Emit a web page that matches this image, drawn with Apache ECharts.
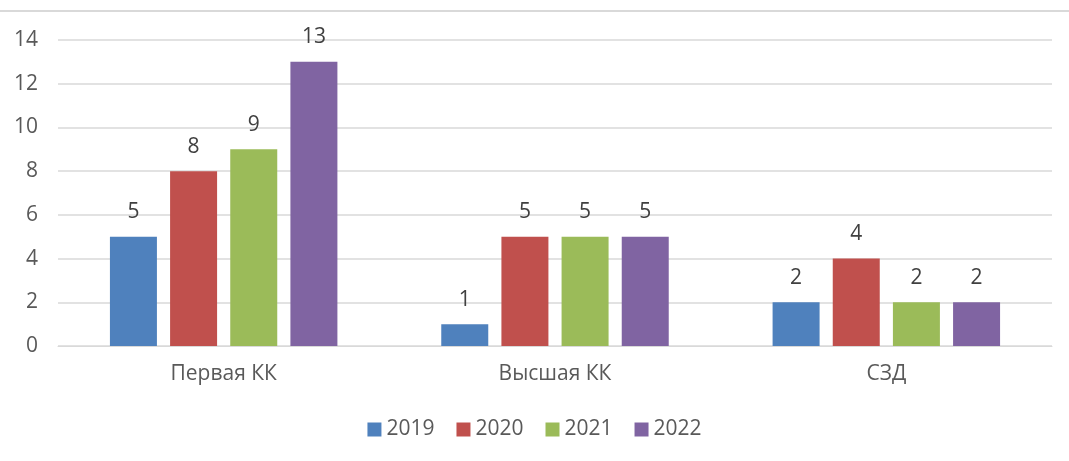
<!DOCTYPE html>
<html>
<head>
<meta charset="utf-8">
<script src="https://cdn.jsdelivr.net/npm/echarts@6/dist/echarts.min.js"></script>
<style>
  html, body { margin: 0; padding: 0; background: #fff; }
  #main { width: 1069px; height: 461px; }
</style>
</head>
<body>
<div id="main"></div>
<script>
var categories = ['Первая КК', 'Высшая КК', 'СЗД'];
var years = ['2019', '2020', '2021', '2022'];
var values2019 = [5, 1, 2];
var values2020 = [8, 5, 4];
var values2021 = [9, 5, 2];
var values2022 = [13, 5, 2];
var colors = ['#4F81BD', '#C0504D', '#9BBB59', '#8064A2'];

var chart = echarts.init(document.getElementById('main'));
var font = 'Open Sans, sans-serif';
var seriesData = [values2019, values2020, values2021, values2022];

chart.setOption({
    animation: false,
    textStyle: { fontFamily: font },
    graphic: [{
        type: 'line',
        shape: { x1: 0, y1: 11, x2: 1069, y2: 11 },
        style: { stroke: '#d9d9d9', lineWidth: 2 }
    }],
    legend: {
        bottom: 16,
        itemWidth: 14,
        itemHeight: 14,
        itemGap: 22,
        icon: 'rect',
        textStyle: { fontSize: 21, color: '#595959', fontFamily: font }
    },
    grid: { left: 58, right: 17, top: 40, bottom: 115 },
    xAxis: {
        type: 'category',
        data: categories,
        axisTick: { show: false },
        axisLine: { lineStyle: { color: '#d9d9d9' } },
        axisLabel: { fontSize: 21, color: '#595959', margin: 18 }
    },
    yAxis: {
        type: 'value',
        min: 0,
        max: 14,
        interval: 2,
        axisLabel: { fontSize: 21, color: '#595959', margin: 20 },
        splitLine: { lineStyle: { color: '#d9d9d9', width: 1.5 } }
    },
    series: years.map(function (y, i) {
        return {
            name: y,
            type: 'bar',
            data: seriesData[i],
            barWidth: 47,
            barGap: '28%',
            itemStyle: { color: colors[i] },
            label: {
                show: true,
                position: 'top',
                distance: 14,
                fontSize: 21,
                color: '#404040'
            }
        };
    })
});
</script>
</body>
</html>
